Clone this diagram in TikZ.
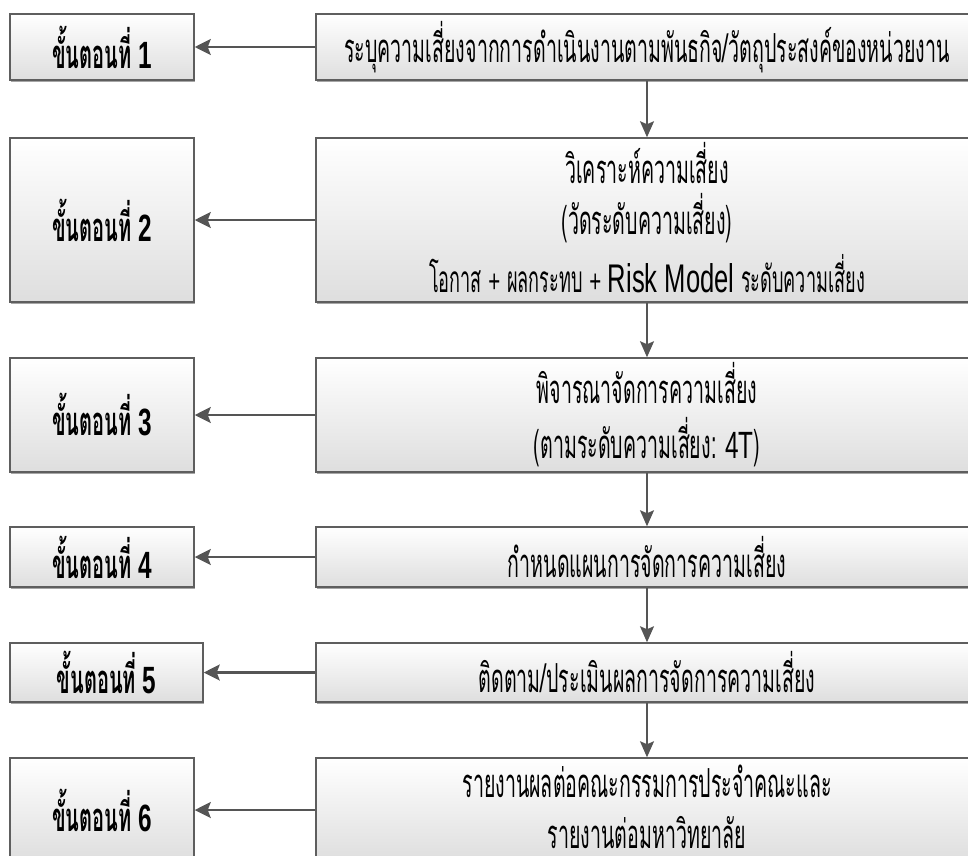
\documentclass[tikz,border=0pt]{standalone}
\usepackage{fontspec}
\usetikzlibrary{arrows.meta,shadows}
\setmainfont{Liberation Sans}
\newfontfamily\thai[Script=Thai,FakeStretch=0.49]{Loma}
\newfontfamily\thaib[Script=Thai,FakeStretch=0.5]{Loma}
\newfontfamily\lat[FakeStretch=0.64]{Liberation Sans}
\definecolor{boxline}{HTML}{5E5E5E}
\definecolor{boxbot}{HTML}{DEDEDE}
\definecolor{arr}{HTML}{555555}
\tikzset{
  box/.style={rectangle, draw=boxline, line width=1.5pt, top color=white, bottom color=boxbot,
    drop shadow={shadow xshift=1pt, shadow yshift=-1.6pt, fill=gray!70, opacity=1},
    inner sep=0pt, align=center},
  stepname/.style={font=\thaib\bfseries\fontsize{40}{46}\selectfont},
  rtext/.style={font=\thai\fontsize{40}{46}\selectfont},
  harrow/.style={draw=arr, line width=2.4pt, -{Stealth[length=16pt,width=16pt,inset=3pt]}},
  varrow/.style={draw=arr, line width=1.7pt, -{Stealth[length=16pt,width=14pt,inset=3pt]}}
}
\newcommand{\stepno}[1]{\ {\lat\bfseries\fontsize{38}{42}\selectfont #1}}
\begin{document}
\begin{tikzpicture}[x=1pt,y=-1pt]
\useasboundingbox (0,0) rectangle (968,855);
\clip (0,0) rectangle (968,855);
% left step boxes
\node[box, stepname, minimum width=184pt, minimum height=66pt] (l1) at (102,47) {ขั้นตอนที่\stepno{1}};
\node[box, stepname, minimum width=184pt, minimum height=164pt] (l2) at (102,220) {ขั้นตอนที่\stepno{2}};
\node[box, stepname, minimum width=184pt, minimum height=114pt] (l3) at (102,415) {ขั้นตอนที่\stepno{3}};
\node[box, stepname, minimum width=184pt, minimum height=60pt] (l4) at (102,557) {ขั้นตอนที่\stepno{4}};
\node[box, stepname, minimum width=193pt, minimum height=59pt] (l5) at (106.5,672.5) {ขั้นตอนที่\stepno{5}};
\node[box, stepname, minimum width=184pt, minimum height=104pt] (l6) at (102,810) {ขั้นตอนที่\stepno{6}};
% right process boxes
\node[box, rtext, minimum width=662pt, minimum height=66pt] (r1) at (647,47)
  {ระบุความเสี่ยงจากการดำเนินงานตามพันธกิจ/วัตถุประสงค์ของหน่วยงาน};
\node[box, minimum width=662pt, minimum height=164pt] (r2) at (647,220) {};
\node[rtext] (r2a) at (647,163) {วิเคราะห์ความเสี่ยง};
\node[rtext] (r2b) at (647,218) {(วัดระดับความเสี่ยง)};
\node[rtext] (r2c) at (647,274) {{\fontsize{37}{42}\selectfont โอกาส} {\lat\fontsize{32}{36}\selectfont +} {\fontsize{37}{42}\selectfont ผลกระทบ} {\lat\fontsize{32}{36}\selectfont +} {\lat\fontsize{40}{44}\selectfont Risk Model} {\fontsize{37}{42}\selectfont ระดับความเสี่ยง}};
\node[box, minimum width=662pt, minimum height=114pt] (r3) at (647,415) {};
\node[rtext] (r3a) at (647,383) {พิจารณาจัดการความเสี่ยง};
\node[rtext] (r3b) at (647,442) {(ตามระดับความเสี่ยง: {\lat\fontsize{38}{42}\selectfont 4T})};
\node[box, rtext, minimum width=662pt, minimum height=60pt] (r4) at (647,557) {กำหนดแผนการจัดการความเสี่ยง};
\node[box, rtext, minimum width=662pt, minimum height=59pt] (r5) at (647,672.5) {ติดตาม/ประเมินผลการจัดการความเสี่ยง};
\node[box, minimum width=662pt, minimum height=104pt] (r6) at (647,810) {};
\node[rtext] (r6a) at (647,781) {รายงานผลต่อคณะกรรมการประจำคณะและ};
\node[rtext] (r6b) at (647,833) {รายงานต่อมหาวิทยาลัย};
% connectors
\foreach \i in {1,...,6} { \draw[harrow] (r\i.west) -- (l\i.east); }
\foreach \i/\j in {1/2,2/3,3/4,4/5,5/6} { \draw[varrow] (r\i.south) -- (r\j.north); }
\end{tikzpicture}
\end{document}
